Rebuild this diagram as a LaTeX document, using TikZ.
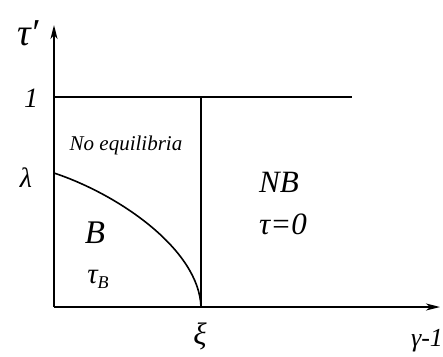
\documentclass[tikz,border=0pt]{standalone}
\usepackage{fontspec}
\setmainfont{Liberation Serif}
\usetikzlibrary{arrows.meta}
\begin{document}
\begin{tikzpicture}[x=1pt,y=-1pt,
  lbl/.style={inner sep=0pt},
  axis/.style={line width=1.8pt,-{Stealth[length=14pt,width=7pt,inset=4pt]}},
  bound/.style={line width=1.6pt}]
\useasboundingbox (0,0) rectangle (443,356);
\coordinate (O) at (54,307);
\coordinate (ytip) at (54,25);
\coordinate (xtip) at (440,307);
\coordinate (oneL) at (54,97);
\coordinate (oneR) at (352,97);
\coordinate (xiT) at (201,97);
\coordinate (xiB) at (201,307);
\coordinate (lam) at (54,173);
\draw[axis] (O) -- (ytip);
\draw[axis] (O) -- (xtip);
\draw[bound] (oneL) -- (oneR);
\draw[bound] (xiT) -- (xiB);
\draw[bound] (lam) .. controls (120,195) and (199,250) .. (xiB);
\node[lbl,font=\itshape\fontsize{38}{40}\selectfont] (tp) at (28,33) {τ′};
\node[lbl,font=\itshape\fontsize{28}{30}\selectfont] (one) at (31,98) {1};
\node[lbl,font=\itshape\fontsize{28}{30}\selectfont] (lamlbl) at (26,178) {λ};
\node[lbl,font=\itshape\fontsize{21}{23}\selectfont] (noeq) at (126,145) {No equilibria};
\node[lbl,font=\itshape\fontsize{33}{35}\selectfont] (B) at (95,233) {B};
\node[lbl,font=\itshape\fontsize{29}{31}\selectfont] (tauB) at (98,279) {τ\raisebox{-5pt}{\fontsize{18}{19}\selectfont B}};
\node[lbl,font=\itshape\fontsize{31}{33}\selectfont] (NB) at (279,182) {NB};
\node[lbl,font=\itshape\fontsize{31}{33}\selectfont] (tau0) at (283,224) {τ=0};
\node[lbl,font=\itshape\fontsize{31}{33}\selectfont] (xi) at (200,336) {ξ};
\node[lbl,font=\itshape\fontsize{26}{28}\selectfont] (gam) at (427,341) {γ-1};
\end{tikzpicture}
\end{document}
